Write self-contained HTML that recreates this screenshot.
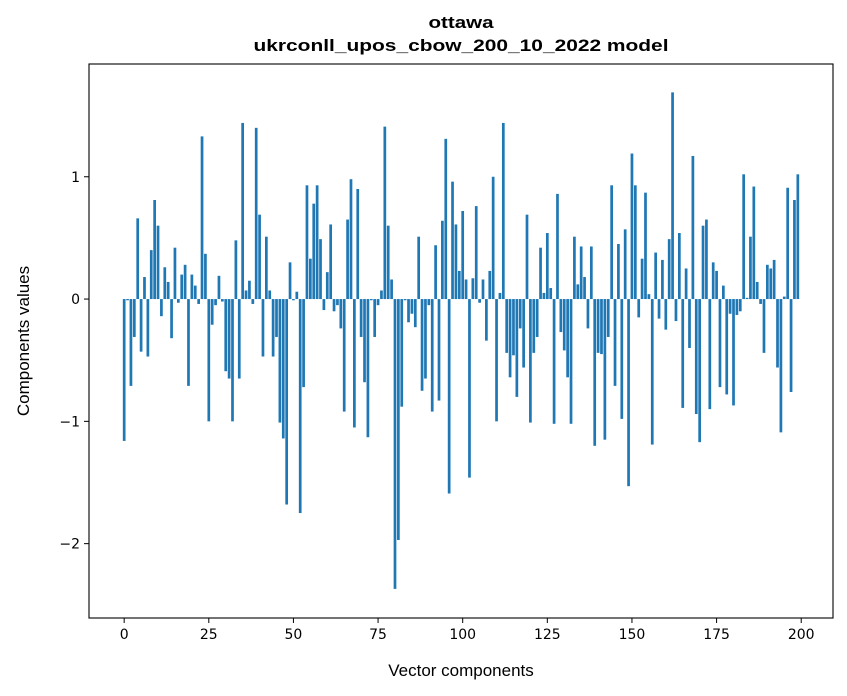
<!DOCTYPE html>
<html><head><meta charset="utf-8"><style>
body{margin:0;background:#fff;}
svg{display:block;font-family:"DejaVu Sans","Liberation Sans",sans-serif;}
</style></head><body>
<svg id="chart" width="847" height="696" viewBox="0 0 847 696" xmlns="http://www.w3.org/2000/svg">
<rect width="847" height="696" fill="#fff"/>
<text x="461" y="28" text-anchor="middle" font-size="17" font-weight="bold" font-family="Liberation Sans, sans-serif" textLength="65" lengthAdjust="spacingAndGlyphs">ottawa</text>
<text x="461" y="51" text-anchor="middle" font-size="17" font-weight="bold" font-family="Liberation Sans, sans-serif" textLength="415" lengthAdjust="spacingAndGlyphs">ukrconll_upos_cbow_200_10_2022 model</text>
<g id="bars"></g>
<g id="axes"></g>
<text x="461" y="676" text-anchor="middle" font-size="17" font-family="Liberation Sans, sans-serif">Vector components</text>
<text transform="translate(29,341) rotate(-90)" text-anchor="middle" font-size="17" font-family="Liberation Sans, sans-serif">Components values</text>
</svg>
<script>
const values = [
-1.16,-0.01,-0.71,-0.31,0.66,-0.43,0.18,-0.47,0.40,0.81,
0.60,-0.14,0.26,0.14,-0.32,0.42,-0.03,0.20,0.28,-0.71,
0.20,0.11,-0.04,1.33,0.37,-1.00,-0.21,-0.05,0.19,-0.02,
-0.59,-0.65,-1.00,0.48,-0.65,1.44,0.07,0.15,-0.04,1.40,
0.69,-0.47,0.51,0.07,-0.47,-0.31,-1.01,-1.14,-1.68,0.30,
-0.01,0.06,-1.75,-0.72,0.93,0.33,0.78,0.93,0.49,-0.09,
0.22,0.61,-0.10,-0.05,-0.24,-0.92,0.65,0.98,-1.05,0.90,
-0.31,-0.68,-1.13,-0.01,-0.31,-0.05,0.07,1.41,0.60,0.16,
-2.37,-1.97,-0.88,-0.01,-0.19,-0.12,-0.23,0.51,-0.75,-0.65,
-0.05,-0.92,0.44,-0.83,0.64,1.31,-1.59,0.96,0.61,0.23,
0.72,0.16,-1.46,0.17,0.76,-0.03,0.16,-0.34,0.23,1.00,
-1.00,0.05,1.44,-0.44,-0.64,-0.46,-0.80,-0.24,-0.56,0.69,
-1.01,-0.44,-0.31,0.42,0.05,0.54,0.09,-1.02,0.86,-0.27,
-0.42,-0.64,-1.02,0.51,0.12,0.43,0.18,-0.24,0.43,-1.20,
-0.44,-0.45,-1.15,-0.31,0.93,-0.71,0.45,-0.98,0.57,-1.53,
1.19,0.93,-0.15,0.33,0.87,0.04,-1.19,0.38,-0.16,0.32,
-0.25,0.49,1.69,-0.18,0.54,-0.89,0.25,-0.40,1.17,-0.94,
-1.17,0.60,0.65,-0.90,0.30,0.23,-0.72,0.11,-0.78,-0.12,
-0.87,-0.13,-0.10,1.02,0.01,0.51,0.92,0.14,-0.04,-0.44,
0.28,0.25,0.32,-0.56,-1.09,0.02,0.91,-0.76,0.81,1.02
];
const xTicks = [0,25,50,75,100,125,150,175,200];
const yTicks = [-2,-1,0,1];
const yTickLabels = ["\u22122","\u22121","0","1"];

const NS="http://www.w3.org/2000/svg";
const L=89,R=833,T=64,B=618;
const xMin=-10.39,xMax=209.39,yMin=-2.608,yMax=1.922;
function xs(v){return L+(v-xMin)/(xMax-xMin)*(R-L);}
function ys(v){return T+(yMax-v)/(yMax-yMin)*(B-T);}
function mk(tag,attrs,parent){const e=document.createElementNS(NS,tag);for(const k in attrs)e.setAttribute(k,attrs[k]);parent.appendChild(e);return e;}

const bars=document.getElementById('bars');
values.forEach((v,i)=>{
  const x0=xs(i-0.4),x1=xs(i+0.4);
  const y0=ys(Math.max(v,0)),y1=ys(Math.min(v,0));
  const r=mk('rect',{x:x0,y:y0,width:x1-x0,height:Math.max(y1-y0,0.3),fill:'#1f77b4'},bars);
  
  
});

const ax=document.getElementById('axes');
const frame=mk('rect',{x:L,y:T,width:R-L,height:B-T,fill:'none',stroke:'#000','stroke-width':1.1},ax);


xTicks.forEach(t=>{
  const x=xs(t);
  const tk=mk('line',{x1:x,x2:x,y1:B,y2:B+5,stroke:'#000','stroke-width':1},ax);
  
  
  const tx=mk('text',{x:x,y:B+21,'text-anchor':'middle','font-size':14},ax);
  tx.textContent=t;
  
  
});
yTicks.forEach((t,i)=>{
  const y=ys(t);
  const tk=mk('line',{x1:L-5,x2:L,y1:y,y2:y,stroke:'#000','stroke-width':1},ax);
  
  
  const tx=mk('text',{x:L-9,y:y+5,'text-anchor':'end','font-size':14},ax);
  tx.textContent=yTickLabels[i];
  
  
});
</script>
</body></html>
